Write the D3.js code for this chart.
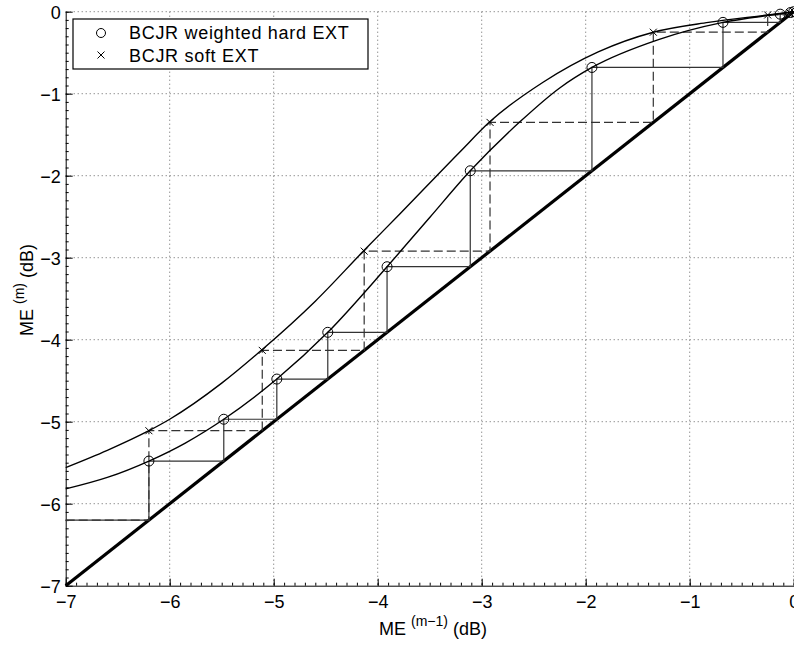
<!DOCTYPE html>
<html>
<head>
<meta charset="utf-8">
<script src="https://cdn.jsdelivr.net/npm/d3@7"></script>
<style>
  body { margin: 0; background: #fff; }
  text { font-family: "Liberation Sans", Arial, Helvetica, sans-serif; }
  .grid line { stroke: #666; stroke-dasharray: 1,3; }
  .axis path, .axis line { stroke: #000; }
</style>
</head>
<body>
<div id="graph"></div>
<script>
// transfer curves
var hardCurveX = [-7, -6.6, -6.2, -5.85, -5.48, -4.97, -4.48, -3.91, -3.5, -3.11, -2.63, -2.25, -1.94, -1.3, -0.68, -0.13, 0];
var hardCurveY = [-5.82, -5.68, -5.48, -5.26, -4.97, -4.48, -3.91, -3.11, -2.51, -1.94, -1.34, -0.93, -0.68, -0.34, -0.13, -0.025, 0];

var softCurveX = [-7, -6.6, -6.2, -6.0, -5.5, -5.11, -4.6, -4.13, -3.79, -3.21, -2.92, -2.41, -1.88, -1.35, -0.82, -0.25, 0];
var softCurveY = [-5.56, -5.35, -5.11, -4.97, -4.53, -4.12, -3.53, -2.91, -2.47, -1.71, -1.34, -0.86, -0.49, -0.25, -0.13, -0.04, 0];

// iteration values ME(m), m = 0, 1, 2, ...
var hardIter = [-6.2, -5.48, -4.97, -4.48, -3.91, -3.11, -1.94, -0.68, -0.13, -0.03, -0.01];
var softIter = [-6.2, -5.11, -4.13, -2.92, -1.35, -0.25, -0.04, -0.01];

var xTicks = [-7, -6, -5, -4, -3, -2, -1, 0];
var yTicks = [-7, -6, -5, -4, -3, -2, -1, 0];
var legendLabels = ['BCJR weighted hard EXT', 'BCJR soft EXT'];

var margin = { top: 11.7, left: 65.7 };
var width = 728, height = 574;

var svg = d3.select('#graph')
            .append('svg')
            .attr('width', 794)
            .attr('height', 645)
            .append('g')
            .attr('transform', 'translate(' + margin.left + ',' + margin.top + ')');

var xScale = d3.scaleLinear().domain([-7, 0]).range([0, width]);
var yScale = d3.scaleLinear().domain([-7, 0]).range([height, 0]);

var fmt = function (d) { return d < 0 ? '\u2212' + Math.abs(d) : '' + d; };

// grid
svg.append('g').attr('class', 'grid')
   .selectAll('line').data(xTicks.slice(1)).enter().append('line')
   .attr('x1', function (d) { return xScale(d); })
   .attr('x2', function (d) { return xScale(d); })
   .attr('y1', 0).attr('y2', height);

svg.append('g').attr('class', 'grid')
   .selectAll('line').data(yTicks.slice(1)).enter().append('line')
   .attr('x1', 0).attr('x2', width)
   .attr('y1', function (d) { return yScale(d); })
   .attr('y2', function (d) { return yScale(d); });

// minor ticks
var minor = d3.range(-70, 1).map(function (i) { return i / 10; });
svg.append('g').attr('class', 'axis')
   .attr('transform', 'translate(0,' + height + ')')
   .call(d3.axisBottom(xScale).tickValues(minor).tickSize(-3).tickFormat(''))
   .select('.domain').remove();
svg.append('g').attr('class', 'axis')
   .call(d3.axisLeft(yScale).tickValues(minor).tickSize(-3).tickFormat(''))
   .select('.domain').remove();

// major axes
var xAxis = svg.append('g').attr('class', 'axis')
   .attr('transform', 'translate(0,' + height + ')')
   .call(d3.axisBottom(xScale).tickValues(xTicks).tickSize(-7).tickSizeOuter(0)
           .tickPadding(7).tickFormat(fmt));
xAxis.selectAll('text').attr('font-size', 18).attr('fill', '#000').attr('dy', '0.85em');

var yAxis = svg.append('g').attr('class', 'axis')
   .call(d3.axisLeft(yScale).tickValues(yTicks).tickSize(-7).tickSizeOuter(0)
           .tickPadding(5).tickFormat(fmt));
yAxis.selectAll('text').attr('font-size', 18).attr('fill', '#000').attr('dy', '0.36em')
     .attr('x', -5);

// diagonal
svg.append('line')
   .attr('x1', xScale(-7)).attr('y1', yScale(-7))
   .attr('x2', xScale(0)).attr('y2', yScale(0))
   .attr('stroke', '#000').attr('stroke-width', 3.2);

// staircase trajectories
function stairs (vals)
{
    var pts = [ [-7, vals[0]], [vals[0], vals[0]] ];
    for (var i = 0; i < vals.length - 1; i++)
    {
        pts.push([vals[i], vals[i + 1]]);
        pts.push([vals[i + 1], vals[i + 1]]);
    }
    return pts;
}

var line = d3.line()
             .x(function (d) { return xScale(d[0]); })
             .y(function (d) { return yScale(d[1]); });

svg.append('path')
   .datum(stairs(softIter))
   .attr('fill', 'none').attr('stroke', '#333').attr('stroke-width', 1.2)
   .attr('stroke-dasharray', '9,4')
   .attr('d', line);

svg.append('path')
   .datum(stairs(hardIter))
   .attr('fill', 'none').attr('stroke', '#333').attr('stroke-width', 1.2)
   .attr('d', line);

// curves
var curve = d3.line()
              .x(function (d) { return xScale(d[0]); })
              .y(function (d) { return yScale(d[1]); })
              .curve(d3.curveMonotoneX);

svg.append('path')
   .datum(d3.zip(hardCurveX, hardCurveY))
   .attr('fill', 'none').attr('stroke', '#000').attr('stroke-width', 1.4)
   .attr('d', curve);

svg.append('path')
   .datum(d3.zip(softCurveX, softCurveY))
   .attr('fill', 'none').attr('stroke', '#000').attr('stroke-width', 1.4)
   .attr('d', curve);

// markers
var hardPts = [], softPts = [];
for (var i = 0; i < hardIter.length - 1; i++) hardPts.push([hardIter[i], hardIter[i + 1]]);
for (var j = 0; j < softIter.length - 1; j++) softPts.push([softIter[j], softIter[j + 1]]);
hardPts.push([0, 0]);
softPts.push([0, 0]);

svg.selectAll('circle.hard').data(hardPts).enter().append('circle')
   .attr('cx', function (d) { return xScale(d[0]); })
   .attr('cy', function (d) { return yScale(d[1]); })
   .attr('r', 5)
   .attr('fill', 'none').attr('stroke', '#000').attr('stroke-width', 1);

var cross = 'M-3.5,-3.5L3.5,3.5M-3.5,3.5L3.5,-3.5';
svg.selectAll('path.soft').data(softPts).enter().append('path')
   .attr('transform', function (d) { return 'translate(' + xScale(d[0]) + ',' + yScale(d[1]) + ')'; })
   .attr('d', cross)
   .attr('stroke', '#000').attr('stroke-width', 1);

// legend
var lg = svg.append('g').attr('transform', 'translate(' + (73 - margin.left) + ',' + (19 - margin.top) + ')');
lg.append('rect').attr('width', 295).attr('height', 50)
  .attr('fill', '#fff').attr('stroke', '#000').attr('stroke-width', 1.2);
lg.append('circle').attr('cx', 28).attr('cy', 14).attr('r', 4.5)
  .attr('fill', 'none').attr('stroke', '#000');
lg.append('path').attr('transform', 'translate(28,36)').attr('d', cross)
  .attr('stroke', '#000');
lg.selectAll('text').data(legendLabels).enter().append('text')
  .attr('x', 56)
  .attr('y', function (d, i) { return 20.3 + i * 22.4; })
  .attr('font-size', 18)
  .attr('letter-spacing', 0.7)
  .text(function (d) { return d; });

// axis labels
var xl = svg.append('text')
   .attr('x', 433 - margin.left).attr('y', 635 - margin.top)
   .attr('text-anchor', 'middle').attr('font-size', 18);
xl.append('tspan').text('ME ');
xl.append('tspan').attr('font-size', 14).attr('dy', -9).text('(m\u22121)');
xl.append('tspan').attr('dy', 9).text(' (dB)');

var yl = svg.append('text')
   .attr('transform', 'rotate(-90)')
   .attr('x', -(290 - margin.top)).attr('y', 33 - margin.left)
   .attr('text-anchor', 'middle').attr('font-size', 18);
yl.append('tspan').text('ME ');
yl.append('tspan').attr('font-size', 14).attr('dy', -9).text('(m)');
yl.append('tspan').attr('dy', 9).text(' (dB)');
</script>
</body>
</html>
